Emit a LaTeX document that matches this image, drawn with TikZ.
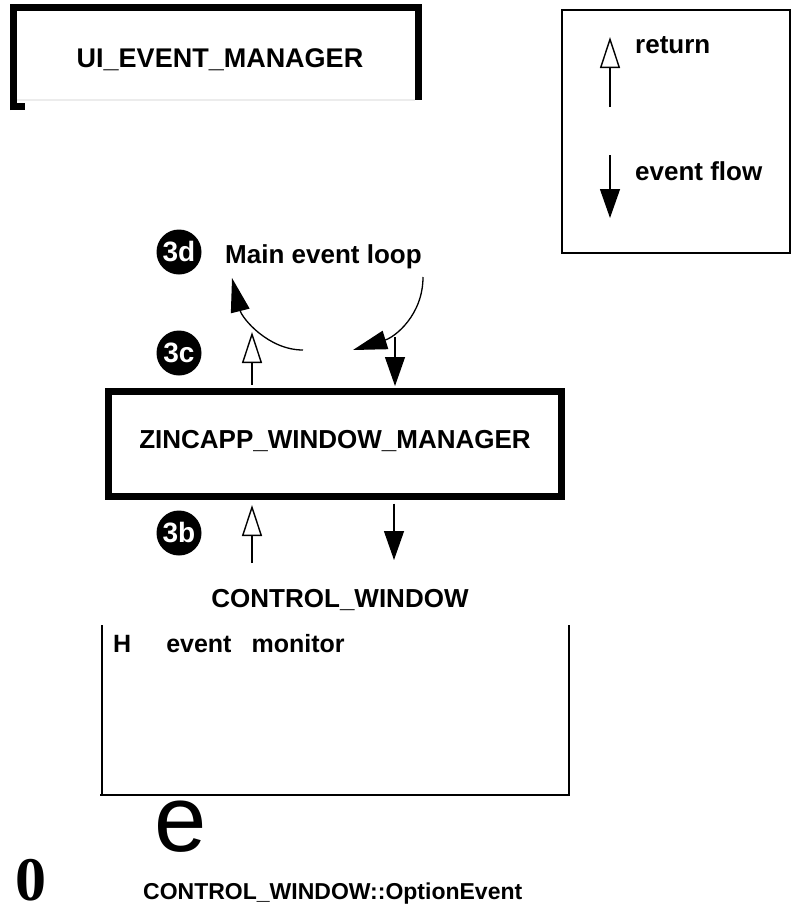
\documentclass[tikz,border=0pt]{standalone}
\usepackage{fontspec}
\setmainfont{Liberation Sans}
\newfontfamily\serifface{Liberation Serif}
\usetikzlibrary{arrows.meta}
\newcommand\fsz[1]{\fontsize{#1}{#1}\selectfont\bfseries}
\tikzset{
  txt/.style={inner sep=0pt, text=black},
  badge/.style={circle, fill=black, minimum size=45pt, inner sep=0pt, text=white, font=\fsz{28}},
  retarrow/.style={line width=1.3pt, -{Triangle[open,length=31pt,width=20pt,line width=1.4pt]}},
  evarrow/.style={line width=1.3pt, -{Triangle[length=29pt,width=20pt]}},
  looparrow/.style={line width=1.3pt, -{Triangle[length=34pt,width=19pt]}},
}
\begin{document}
\begin{tikzpicture}[x=1pt,y=-1pt]
\useasboundingbox (0,0) rectangle (793,913);
\fill[white] (0,0) rectangle (793,913);

% UI_EVENT_MANAGER box (open at bottom)
\draw[gray!15, line width=2pt] (17,100) -- (415,100);
\draw[line width=7pt, line join=miter] (13.5,110) -- (13.5,7.5) -- (418.5,7.5) -- (418.5,100);
\fill (10,103) rectangle (25,110);
\node[txt, anchor=base, font=\fsz{27}] (uiem) at (220,67) {UI\_EVENT\_MANAGER};

% Legend
\node[draw, line width=2pt, minimum width=228pt, minimum height=243pt, inner sep=0pt] (legend) at (676,131.5) {};
\coordinate (lr0) at (610,107);
\coordinate (lr1) at (610,37);
\coordinate (le0) at (610,155);
\coordinate (le1) at (610,218);
\draw[retarrow] (lr0) -- (lr1);
\draw[evarrow] (le0) -- (le1);
\node[txt, anchor=base west, font=\fsz{26}] (lret) at (635,53) {return};
\node[txt, anchor=base west, font=\fsz{26}] (lev) at (635,180) {event flow};

% Main event loop
\node[badge] (c3d) at (179,252) {3d};
\node[txt, anchor=base west, font=\fsz{26}] (mel) at (225,263) {Main event loop};
\node[badge] (c3c) at (179,353) {3c};

% ZINCAPP_WINDOW_MANAGER box
\node[draw, line width=7pt, minimum width=453pt, minimum height=105pt, inner sep=0pt,
      text height=19pt, text depth=11pt, font=\fsz{26}] (zwm) at (335,444) {ZINCAPP\_WINDOW\_MANAGER};

% loop curves
\coordinate (la0) at (303,350);
\coordinate (la1) at (232,278);
\draw[looparrow] (la0) .. controls (268,350) and (242,318) .. (la1);
\coordinate (ra0) at (423,277);
\coordinate (ra1) at (353,350);
\draw[looparrow] (ra0) .. controls (423,315) and (395,337) .. (ra1);

% arrows above ZINCAPP
\coordinate (ut) at (252,332);
\draw[retarrow, shorten <=3.5pt] (zwm.north -| ut) -- (ut);
\coordinate (dt) at (395,337);
\draw[evarrow, shorten >=2pt] (dt) -- (zwm.north -| dt);

% arrows below ZINCAPP
\node[badge] (c3b) at (179,533) {3b};
\coordinate (ub) at (252,563);
\draw[retarrow, shorten >=5pt] (ub) -- (ub |- zwm.south);
\coordinate (db) at (394,560);
\draw[evarrow, shorten <=3.5pt] (zwm.south -| db) -- (db);

% CONTROL_WINDOW
\node[txt, anchor=base, font=\fsz{26}] (cw) at (340,607) {CONTROL\_WINDOW};
\draw[line width=2pt] (102,625) -- (102,795);
\draw[line width=2pt] (100,795) -- (569,795) -- (569,625);
\node[txt, anchor=base west, font=\fsz{25}] (mon) at (113,652) {H\hspace{35pt}event\hspace{20pt}monitor};

% bottom leftovers
\node[txt, anchor=base west, font=\fontsize{94}{94}\selectfont] (ee) at (154,851) {e};
\node[txt, anchor=base, font=\serifface\fontsize{62}{62}\selectfont\bfseries] (zero) at (31,900) {0};
\node[txt, anchor=base west, font=\fsz{23}] (opt) at (143,899) {CONTROL\_WINDOW::OptionEvent};
\end{tikzpicture}
\end{document}
